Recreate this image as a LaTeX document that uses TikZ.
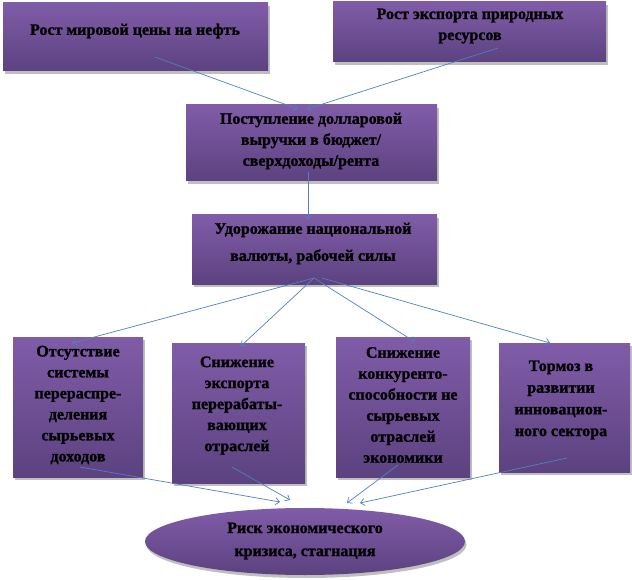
\documentclass[tikz,border=0pt]{standalone}
\usepackage{fontspec}
\setmainfont{Liberation Serif}[BoldFeatures={FakeBold=1.2}]
\usetikzlibrary{arrows.meta,shadows,shapes.geometric}
\definecolor{boxtop}{RGB}{128,92,168}
\definecolor{boxbot}{RGB}{92,66,128}
\definecolor{linkblue}{RGB}{79,129,189}
\tikzset{
  box/.style={draw=none, top color=boxtop, bottom color=boxbot, inner sep=0pt,
    drop shadow={shadow xshift=1.5pt, shadow yshift=-3pt, fill=black!25, opacity=1}},
  txt/.style={align=center, inner sep=0pt, font=\bfseries\fontsize{16}{21}\selectfont},
  link/.style={linkblue, line width=0.7pt, -{Straight Barb[length=4pt,width=7pt]}}
}

\begin{document}
\begin{tikzpicture}[x=1pt,y=-1pt]
	%%%%% START %%%%%
	\useasboundingbox (0,0) rectangle (632,580);
	
	\node[box, minimum width=265pt, minimum height=68pt] (nefta) at (135.5,37) {};
	\node[box, minimum width=273pt, minimum height=60pt] (export) at (469.5,32) {};
	\node[box, minimum width=251pt, minimum height=76pt] (vyruchka) at (311.5,143) {};
	\node[box, minimum width=245pt, minimum height=69pt] (valuta) at (314.5,249.5) {};
	\node[box, minimum width=130pt, minimum height=140pt] (sistema) at (78,407) {};
	\node[box, minimum width=133pt, minimum height=140pt] (pererab) at (238.5,413) {};
	\node[box, minimum width=134pt, minimum height=140pt] (konkur) at (403,407) {};
	\node[box, minimum width=131pt, minimum height=129pt] (tormoz) at (564.5,407.5) {};
	\node[box, ellipse, minimum width=320pt, minimum height=67pt] (krizis) at (305,541.5) {};
	
	\node[txt] (t-nefta) at (135,31) {Рост мировой цены на нефть};
	\node[txt] (t-export) at (470,26) {Рост экспорта природных\\ресурсов};
	\node[txt] (t-vyruchka) at (311,141) {Поступление долларовой\\выручки в бюджет/\\сверхдоходы/рента};
	\node[txt, font=\bfseries\fontsize{16}{27}\selectfont] (t-valuta) at (313,243.5) {Удорожание национальной\\валюты, рабочей силы};
	\node[txt] (t-sistema) at (78,405) {Отсутствие\\системы\\перераспре-\\деления\\сырьевых\\доходов};
	\node[txt] (t-pererab) at (237,405.5) {Снижение\\экспорта\\перерабаты-\\вающих\\отраслей};
	\node[txt] (t-konkur) at (403,405) {Снижение\\конкуренто-\\способности не\\сырьевых\\отраслей\\экономики};
	\node[txt, font=\bfseries\fontsize{16}{21.7}\selectfont] (t-tormoz) at (561,400) {Тормоз в\\развитии\\инновацион-\\ного сектора};
	\node[txt, font=\bfseries\fontsize{16}{23}\selectfont] (t-krizis) at (305,541) {Риск экономического\\кризиса, стагнация};
	
	% connector ends
	\coordinate (a1) at (155,57);   \coordinate (z1) at (298,109);
	\coordinate (a2) at (498,48);   \coordinate (z2) at (307,109);
	\coordinate (a3) at (308,172);  \coordinate (z3) at (308,220);
	\coordinate (a4) at (314,278);  \coordinate (a4r) at (322,278);
	\coordinate (z5) at (72,343);   \coordinate (z6) at (241,346);
	\coordinate (z7) at (415,342);  \coordinate (z8) at (550,343);
	\coordinate (a5) at (80,467);   \coordinate (e5) at (280,502);
	\coordinate (a6) at (232,467);  \coordinate (e6) at (290,500);
	\coordinate (a7) at (398,465);  \coordinate (e7) at (347,503);
	\coordinate (a8) at (567,458);  \coordinate (e8) at (360,503);
	
	\draw[link] (a1) -- (z1);
	\draw[link] (a2) -- (z2);
	\draw[link] (a3) -- (z3);
	\draw[link] (a4) -- (z5);
	\draw[link] (a4) -- (z6);
	\draw[link] (a4) -- (z7);
	\draw[link] (a4r) -- (z8);
	\draw[link] (a5) -- (e5);
	\draw[link] (a6) -- (e6);
	\draw[link] (a7) -- (e7);
	\draw[link] (a8) -- (e8);
	%%%%% END %%%%%
\end{tikzpicture}
\end{document}
